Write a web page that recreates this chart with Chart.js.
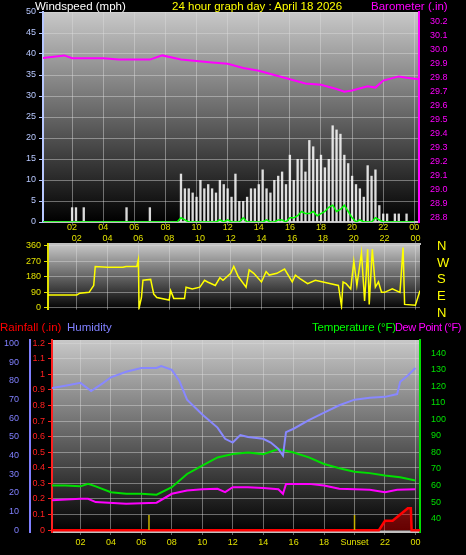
<!DOCTYPE html>
<html>
<head>
<meta charset="utf-8">
<script src="https://cdn.jsdelivr.net/npm/chart.js@4"></script>
<style>
body { margin: 0; background: #000; width: 466px; height: 555px; overflow: hidden; font-family: "Liberation Sans", sans-serif; }
canvas { position: absolute; left: 0; }
.lbl { position: absolute; font-size: 11.5px; line-height: 12px; white-space: nowrap; z-index: 2; }
</style>
</head>
<body>
<canvas id="c1" style="top:0"></canvas>
<canvas id="c2" style="top:229px"></canvas>
<canvas id="c3" style="top:318px"></canvas>
<div class="lbl" style="left:35px;top:0;color:#fff">Windspeed (mph)</div>
<div class="lbl" style="left:172px;top:0;color:#ffff00">24 hour graph day : April 18 2026</div>
<div class="lbl" style="left:371px;top:0;color:#ff00ff">Barometer (.in)</div>
<div class="lbl" style="left:437px;top:238px;color:#ffff00;line-height:16.7px;font-size:13px">N<br>W<br>S<br>E<br>N</div>
<div class="lbl" style="left:0;top:321px;color:#ff0000">Rainfall (.in)</div>
<div class="lbl" style="left:67px;top:321px;color:#8080ff">Humidity</div>
<div class="lbl" style="left:312px;top:321px;color:#00ff00;letter-spacing:-0.2px">Temperature (°F)</div>
<div class="lbl" style="left:395px;top:321px;color:#ff00ff;letter-spacing:-0.4px;font-size:11px">Dew Point (°F)</div>
<script>
// wind, every 15 minutes from 00:00 to 24:00
const windHours = [];
for (let i = 0; i <= 96; i++) windHours.push(i / 4);
const windGust = [
  0,0,0,0,0,0,0,0, 3.5,3.5,0,3.5,0,0,0,0, 0,0,0,0,0,0,3.5,0, 0,0,0,0,3.5,0,0,0,
  0,0,0,0, 11.5,8,8,7, 6,10,8,9, 8,7,10,9, 8,6,11.5,5, 5,6,8,8, 9,12.5,8,7,
  10,11,12,9, 16,10,15,15, 12,19.5,18,15, 16,13,15,23, 22,21,16,14, 11,9,8,6,
  13.5,11,12.5,4, 2,2,0,2, 2,0,2,0, 0
];
const windAvg = [
  0,0,0,0,0,0,0,0, 0,0,0,0,0,0,0,0, 0,0,0,0,0,0,0,0, 0,0,0,0,0,0,0,0,
  0,0,0,0, 1,0.5,0,0, 0,0,0,0, 0,0,0.5,0, 0.5,0,0,0, 1,0,0,0, 0,0,0.5,0,
  0,0.5,0.5,0, 1,1,1.5,2.5, 2,2,2.5,1.5, 2,2.5,3.5,4, 2.5,3,4,2.5, 1,0,0.5,0,
  0,0,1,0.5, 0,0,0,0, 0,0,0,0, 0
];
const baroHours = [0,1.5,2,4,5,6,7,7.8,9,10,11,12,13,14,15,16,17,18,19,19.5,20,21,21.5,22,23,23.5,24.3];
const baroValues = [29.94,29.96,29.94,29.94,29.93,29.93,29.93,29.96,29.93,29.92,29.91,29.9,29.87,29.85,29.82,29.79,29.76,29.75,29.72,29.7,29.71,29.74,29.73,29.78,29.81,29.8,29.79];
const dirHours = [0.13,2,2.2,2.8,3.1,3.2,4,5,5.2,5.9,6.0,6.05,6.2,6.3,6.8,7.0,7.2,8,8.1,8.3,9,9.1,9.5,10,10.3,10.5,11,11.3,11.5,12,12.2,12.5,13,13.2,13.5,14,14.3,14.5,15,15.5,16,16.2,16.5,17,17.5,18,18.5,19,19.2,19.3,19.5,19.8,20,20.2,20.5,20.7,20.9,21,21.2,21.4,21.6,21.8,22,22.5,23,23.2,23.3,24,24.3];
const dirValues = [75,75,85,90,130,240,235,235,240,240,280,0,60,160,165,80,60,45,100,55,55,120,110,120,160,150,130,175,160,200,240,180,120,220,200,150,210,190,200,225,150,190,170,140,160,150,140,130,10,150,140,110,270,130,320,40,340,20,340,120,150,90,90,110,90,350,20,15,100];
const humHours = [0,1,2,2.7,3.5,4,5,6,7,7.3,8,8.5,9,10,11,11.5,12,12.5,13,14,14.5,15,15.3,15.5,16,17,18,19,20,21,22,22.8,23,23.5,24];
const humValues = [76,77.5,79,74.6,79,82,85,87,87,88,86,80,70,62,55,49,47,51,50,49,47,43.6,40,52.6,54.4,59,63,67,70,71,71.5,73,79.6,83,87];
const tempHours = [0,1,2,2.5,3,4,5,6,7,8,9,10,11,12,13,14,15,16,17,18,19,20,21,22,23,24];
const tempValues = [60,60,59.5,61,59.5,56,55,55,54.5,59,67,72,77,79,80,79,82,80,77,73,70.5,68.4,67.5,66,65,63];
const dewHours = [0,2,2.5,3,5,7,8,9,10,11,11.5,12,13,14,15,15.3,15.5,17,18,19,20,21,22,22.8,24];
const dewValues = [51,52,52,50,49,49.6,55,57,57.7,58,56,59,59,58.5,57.7,55,61,61,60,58,57.7,57.5,56,57.5,57.8];
const rainHours = [0,21.6,22,22.5,23,23.5,23.7,23.75,24.3];
const rainValues = [0,0,0.06,0.06,0.1,0.14,0.14,0,0];
const sunTimes = [6.5, 20];

const xTicks = [2,4,6,8,10,12,14,16,18,20,22,24];
const hourLabel = v => v === 24 ? '00' : String(v).padStart(2, '0');
const tickFont = { size: 9, family: 'Liberation Sans' };

const bgPlugin = {
  id: 'bg',
  beforeDraw(chart) {
    const a = chart.chartArea, ctx = chart.ctx;
    const g = ctx.createLinearGradient(0, a.top, 0, a.bottom);
    g.addColorStop(0, '#c8c8c8');
    g.addColorStop(1, '#000');
    ctx.save();
    ctx.fillStyle = g;
    ctx.fillRect(a.left, a.top, a.right - a.left, a.bottom - a.top);
    ctx.restore();
  }
};

function xScale(pos, height, labelFn, pad) {
  return {
    type: 'linear', position: pos, min: 0.13, max: 24.3, offset: false,
    afterBuildTicks: ax => { ax.ticks = xTicks.map(v => ({ value: v })); },
    afterFit: ax => { ax.height = height; },
    ticks: { color: '#e0e000', font: tickFont, padding: pad == null ? 2 : pad, autoSkip: false, maxRotation: 0, callback: labelFn || hourLabel },
    grid: { color: 'rgba(220,220,220,0.45)', tickLength: 3, offset: false },
    border: { color: '#c0c0c0', width: 2 }
  };
}
function yScale(pos, width, min, max, ticks, color, extra) {
  return Object.assign({
    type: 'linear', position: pos, min, max,
    afterBuildTicks: ax => { ax.ticks = ticks.map(v => ({ value: v })); },
    afterFit: ax => { ax.width = width; },
    ticks: { color, font: tickFont, padding: 3, autoSkip: false },
    grid: { color: 'rgba(220,220,220,0.45)', tickLength: 4, tickColor: color },
    border: { color, width: 2 }
  }, extra || {});
}
function range(a, b, s) { const r = []; for (let v = a; v <= b + 1e-9; v += s) r.push(+v.toFixed(2)); return r; }
const pts = (xs, ys) => xs.map((x, i) => ({ x, y: ys[i] }));
const common = { responsive: false, animation: false, plugins: { legend: { display: false }, tooltip: { enabled: false } } };

function setup(id, w, h) { const c = document.getElementById(id); c.width = w; c.height = h; return c; }

new Chart(setup('c1', 466, 236), {
  type: 'line',
  data: { datasets: [
    { data: pts(baroHours, baroValues), yAxisID: 'baro', borderColor: '#ff00ff', borderWidth: 2, pointRadius: 0 },
    { data: pts(windHours, windAvg), yAxisID: 'wind', borderColor: '#00ff00', borderWidth: 1.5, pointRadius: 0 },
    { type: 'bar', data: pts(windHours, windGust), yAxisID: 'wind', backgroundColor: 'rgba(255,255,255,0.85)', barPercentage: 0.6, categoryPercentage: 1 }
  ] },
  options: Object.assign({}, common, {
    layout: { padding: { top: 12 } },
    scales: {
      x: xScale('bottom', 14, null, -3),
      wind: yScale('left', 43, 0, 50, range(0, 50, 5), '#b8c8ff'),
      baro: yScale('right', 47, 28.77, 30.27, range(28.8, 30.2, 0.1), '#ff00ff', { grid: { display: false } })
    }
  }),
  plugins: [bgPlugin]
});

new Chart(setup('c2', 466, 89), {
  type: 'line',
  data: { datasets: [
    { data: pts(dirHours, dirValues), yAxisID: 'dir', borderColor: '#ffff00', borderWidth: 1.5, pointRadius: 0 }
  ] },
  options: Object.assign({}, common, {
    layout: { padding: { bottom: 6, right: 46 } },
    scales: {
      x: xScale('top', 15, null, -3),
      dir: yScale('left', 48, -10, 370, [0, 90, 180, 270, 360], '#e0e000')
    }
  }),
  plugins: [bgPlugin]
});

const sunPlugin = {
  id: 'sun',
  afterDatasetsDraw(chart) {
    const ctx = chart.ctx, x = chart.scales.x;
    ctx.save();
    ctx.strokeStyle = '#c8b400';
    ctx.lineWidth = 1.5;
    sunTimes.forEach(t => {
      const px = x.getPixelForValue(t);
      ctx.beginPath(); ctx.moveTo(px, chart.chartArea.bottom - 2); ctx.lineTo(px, chart.chartArea.bottom - 17); ctx.stroke();
    });
    ctx.restore();
  }
};

new Chart(setup('c3', 466, 237), {
  type: 'line',
  data: { datasets: [
    { data: pts(humHours, humValues), yAxisID: 'hum', borderColor: '#8888ff', borderWidth: 2, pointRadius: 0 },
    { data: pts(tempHours, tempValues), yAxisID: 'temp', borderColor: '#00e000', borderWidth: 2, pointRadius: 0 },
    { data: pts(dewHours, dewValues), yAxisID: 'temp', borderColor: '#ff00ff', borderWidth: 2, pointRadius: 0 },
    { data: pts(rainHours, rainValues), yAxisID: 'rain', borderColor: '#ff0000', borderWidth: 2.5, pointRadius: 0, fill: 'origin', backgroundColor: 'rgba(255,0,0,0.4)' }
  ] },
  options: Object.assign({}, common, {
    layout: { padding: { top: 22 } },
    scales: {
      x: xScale('bottom', 23, v => v === 20 ? 'Sunset' : hourLabel(v)),
      rain: yScale('left', 22, -0.012, 1.22, range(0, 1.2, 0.1), '#ff2020', { ticks: { color: '#ff2020', font: tickFont, padding: 3, autoSkip: false, callback: v => String(+v.toFixed(1)) } }),
      hum: yScale('left', 30, -1, 102, range(0, 100, 10), '#8080ff', { grid: { display: false } }),
      temp: yScale('right', 46, 31.9, 148, range(40, 140, 10), '#00e000', { grid: { display: false } })
    }
  }),
  plugins: [bgPlugin, sunPlugin]
});
</script>
</body>
</html>
